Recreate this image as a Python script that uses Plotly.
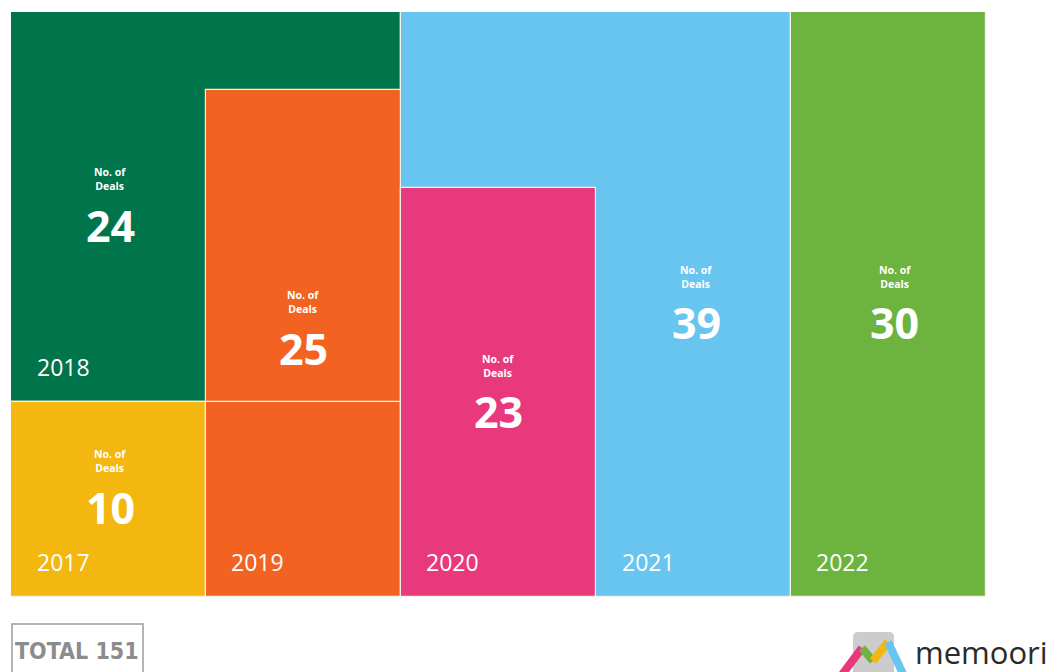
import plotly.graph_objects as go

# ---- data ----
years = ["2017", "2018", "2019", "2020", "2021", "2022"]
deals = [10, 24, 25, 23, 39, 30]
total_deals = 151
colors = ["#F4B70F", "#00744A", "#F26322", "#E8397D", "#67C5F0", "#6CB33F"]

# ---- block geometry (column units x, row units y) ----
# each block: (year index, x0, x1, y0, y1)
blocks = [
    (1, 0, 2, 1, 3),      # 2018 (drawn first, behind)
    (0, 0, 1, 0, 1),      # 2017
    (4, 2, 4, 0, 3),      # 2021 (behind 2020)
    (2, 1, 2, 0, 1),      # 2019 lower
    (2, 1, 2, 1, 2.6),    # 2019 upper
    (3, 2, 3, 0, 2.1),    # 2020
    (5, 4, 5, 0, 3),      # 2022
]
# label anchors: (x centre, y of "No. of Deals", y of number)
D1, D2 = 0.013, 0.013
label_pos = [(0.508, 0.682 + D1, 0.472 - D2), (0.508, 2.133 + D1, 1.918 - D2),
             (1.498, 1.502 + D1, 1.287 - D2), (2.498, 1.174 + D1, 0.964 - D2),
             (3.513, 1.630 + D1, 1.421 - D2), (4.533, 1.630 + D1, 1.421 - D2)]
year_pos = [(0.123, 0.179), (0.123, 1.179), (1.118, 0.179),
            (2.118, 0.179), (3.123, 0.179), (4.118, 0.179)]

fig = go.Figure()
for (i, x0, x1, y0, y1) in blocks:
    fig.add_trace(go.Bar(
        x=[(x0 + x1) / 2], y=[y1 - y0], base=[y0], width=[x1 - x0],
        marker=dict(color=colors[i], line=dict(color="#f4f0ea", width=1.2)),
        hoverinfo="skip", showlegend=False))

FONT = "Open Sans"
for i, (xc, yl, yn) in enumerate(label_pos):
    fig.add_annotation(x=xc, y=yl, xref="x", yref="y", text="<b>No. of<br>Deals</b>",
                       showarrow=False, font=dict(family=FONT, size=10.5, color="white"),
                       xanchor="center", yanchor="middle", borderpad=0)
    fig.add_annotation(x=xc, y=yn, xref="x", yref="y", text="<b>%d</b>" % deals[i],
                       showarrow=False, font=dict(family=FONT, size=43, color="white"),
                       xanchor="center", yanchor="middle", borderpad=0)
for i, (xl, yy) in enumerate(year_pos):
    fig.add_annotation(x=xl, y=yy, xref="x", yref="y", text=years[i],
                       showarrow=False, font=dict(family=FONT, size=23, color="white"),
                       xanchor="left", yanchor="middle")

def px(xp):
    return (xp - 11) / 975
def py(yp):
    return (597 - yp) / 585

# TOTAL box
fig.add_shape(type="rect", xref="paper", yref="paper", x0=px(12), x1=px(143),
              y0=py(680), y1=py(624),
              line=dict(color="#9a9c9e", width=1.5), fillcolor="white")
fig.add_annotation(x=px(77), y=py(651), xref="paper", yref="paper",
                   text="<b>TOTAL %d</b>" % total_deals, showarrow=False,
                   font=dict(family="DejaVu Sans Condensed, DejaVu Sans", size=23, color="#8a8c8e"),
                   xanchor="center", yanchor="middle")

# memoori logo
fig.add_shape(type="path", xref="paper", yref="paper",
              path="M %f %f L %f %f Q %f %f %f %f L %f %f Q %f %f %f %f L %f %f Z" % (
                  px(853), py(676), px(853), py(637), px(853), py(632), px(858), py(632),
                  px(889), py(632), px(894), py(632), px(894), py(637), px(894), py(676)),
              line=dict(width=0), fillcolor="#cccccc")
segs = [((841, 676), (862, 648), "#E8397D"), ((862, 648), (873, 661), "#6CB33F"),
        ((873, 661), (888, 642), "#F4B70F"), ((888, 642), (904, 676), "#67C5F0")]
for (a, b, c) in segs:
    fig.add_shape(type="line", xref="paper", yref="paper", x0=px(a[0]), y0=py(a[1]),
                  x1=px(b[0]), y1=py(b[1]), line=dict(color=c, width=8))
fig.add_annotation(x=px(913), y=py(652), xref="paper", yref="paper", text="memoori",
                   showarrow=False, font=dict(family="Open Sans", size=31, color="#2a2a2a"),
                   xanchor="left", yanchor="middle")

fig.update_layout(
    width=1050, height=672,
    margin=dict(l=11, r=64, t=12, b=75),
    paper_bgcolor="white", plot_bgcolor="white",
    barmode="overlay", bargap=0,
    xaxis=dict(range=[0, 5], visible=False, fixedrange=True),
    yaxis=dict(range=[0, 3], visible=False, fixedrange=True),
    showlegend=False,
)
fig.write_html("out.html")
